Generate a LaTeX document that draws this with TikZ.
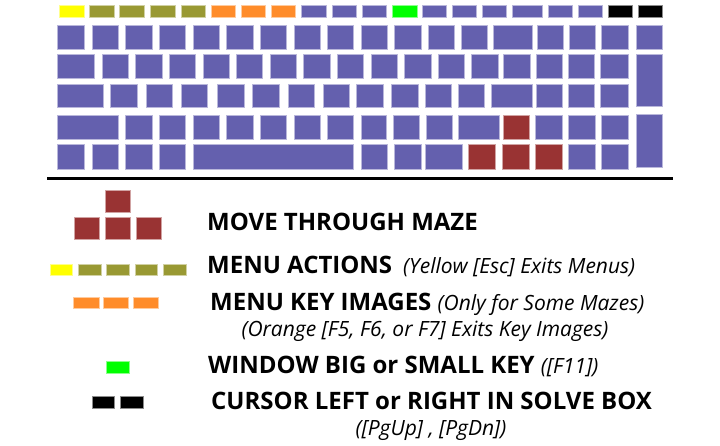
\documentclass[tikz,border=0pt]{standalone}
\usepackage{fontspec}
\setmainfont{Open Sans}
\definecolor{kblue}{RGB}{100,96,174}
\definecolor{kred}{RGB}{153,51,51}
\definecolor{kyel}{RGB}{255,255,0}
\definecolor{kolive}{RGB}{153,153,51}
\definecolor{korange}{RGB}{255,140,42}
\definecolor{kgreen}{RGB}{0,255,0}
\definecolor{kblack}{RGB}{0,0,0}
\newcommand\itpart{\mdseries\fontsize{21}{21}\selectfont\itshape}
\tikzset{
  keyb/.style={rectangle, inner sep=0pt, outer sep=0pt, line width=0.6pt},
  lblb/.style={inner sep=0pt, font=\fontsize{24}{24}\selectfont\bfseries},
  lbli/.style={inner sep=0pt, font=\itpart},
}
\newcommand\keyrow[4]{% #1 name prefix, #2 y top, #3 y bottom, #4 list x0/x1/colour
  \foreach \xa/\xb/\c [count=\i] in {#4} {
    \node[keyb, fill=\c, draw=\c!45!white,
          minimum width={(\xb-\xa)*1pt}, minimum height={(#3-#2)*1pt}]
          (#1-\i) at ({(\xa+\xb)/2},{(#2+#3)/2}) {};
  }%
}
\begin{document}
\begin{tikzpicture}[x=1pt,y=-1pt]
\useasboundingbox (0,0) rectangle (720,446);
% ---- keyboard ----
\keyrow{r1}{5}{17}{59/84/kyel, 89/114/kolive, 119/144/kolive, 150/175/kolive, 181/205/kolive,
  211/235/korange, 241/265/korange, 271/295/korange, 301/326/kblue, 332/356/kblue, 362/386/kblue,
  392/417/kgreen, 422/446/kblue, 452/476/kblue, 482/506/kblue, 512/542/kblue, 548/572/kblue,
  578/602/kblue, 608/632/kblack, 638/662/kblack}
\keyrow{r2}{25}{49}{57/84/kblue, 92/118/kblue, 125/152/kblue, 159/185/kblue, 193/219/kblue,
  226/253/kblue, 260/286/kblue, 294/320/kblue, 327/353/kblue, 361/387/kblue, 394/421/kblue,
  428/454/kblue, 461/487/kblue, 493/532/kblue, 537/563/kblue, 569/595/kblue, 601/628/kblue,
  636/662/kblue}
\keyrow{r3}{54}{78}{57/94/kblue, 102/128/kblue, 135/162/kblue, 169/195/kblue, 203/229/kblue,
  236/262/kblue, 270/296/kblue, 303/330/kblue, 337/363/kblue, 371/397/kblue, 404/431/kblue,
  438/464/kblue, 471/498/kblue, 503/530/kblue, 536/562/kblue, 568/594/kblue, 600/628/kblue}
\keyrow{r34}{54}{106}{636/662/kblue}
\keyrow{r4}{84}{107}{57/103/kblue, 110/137/kblue, 146/172/kblue, 181/207/kblue, 217/244/kblue,
  252/279/kblue, 288/314/kblue, 323/349/kblue, 356/383/kblue, 391/418/kblue, 425/451/kblue,
  458/484/kblue, 491/532/kblue, 536/562/kblue, 568/594/kblue, 600/628/kblue}
\keyrow{r5}{115}{139}{57/118/kblue, 125/152/kblue, 159/185/kblue, 193/219/kblue, 226/253/kblue,
  260/286/kblue, 294/320/kblue, 327/353/kblue, 361/386/kblue, 393/419/kblue, 426/452/kblue,
  458/499/kblue, 503/529/kred, 535/562/kblue, 568/595/kblue, 601/628/kblue}
\keyrow{r56}{114}{167}{636/662/kblue}
\keyrow{r6}{144}{169}{57/84/kblue, 92/118/kblue, 125/152/kblue, 159/185/kblue, 193/353/kblue,
  361/387/kblue, 394/421/kblue, 425/462/kblue, 468/495/kred, 502/529/kred, 535/562/kred,
  568/595/kblue, 601/628/kblue}
% ---- separator ----
\coordinate (sepL) at (47,178.5);
\coordinate (sepR) at (673,178.5);
\draw[line width=3pt] (sepL) -- (sepR);
% ---- legend swatches ----
\keyrow{lm1}{190}{212}{105/130/kred}
\keyrow{lm2}{217}{239}{74/99/kred, 105/130/kred, 136/161/kred}
\keyrow{la}{264}{275}{50/72/kyel, 78/101/kolive, 106/129/kolive, 135/157/kolive, 163/186/kolive}
\keyrow{lk}{297}{308}{73/99/korange, 103/128/korange, 133/158/korange}
\keyrow{lw}{361}{373}{106/129/kgreen}
\keyrow{lc}{396}{408}{92/114/kblack, 120/143/kblack}
% ---- legend texts ----
\node[lblb, anchor=base west] (t1) at (207,231) {MOVE THROUGH MAZE};
\node[lblb, anchor=base west] (t2) at (207,274) {MENU ACTIONS\hspace{11pt}{\itpart (Yellow [Esc] Exits Menus)}};
\node[lblb, anchor=base west] (t3) at (210,310) {MENU KEY IMAGES {\itpart (Only for Some Mazes)}};
\node[lbli, anchor=base] (t4) at (425,336) {(Orange [F5, F6, or F7] Exits Key Images)};
\node[lblb, anchor=base west] (t5) at (208,373) {WINDOW BIG or SMALL KEY {\itpart ([F11])}};
\node[lblb, anchor=base west] (t6) at (211,409) {CURSOR LEFT or RIGHT IN SOLVE BOX};
\node[lbli, anchor=base] (t7) at (431,435) {([PgUp] , [PgDn])};
\end{tikzpicture}
\end{document}
